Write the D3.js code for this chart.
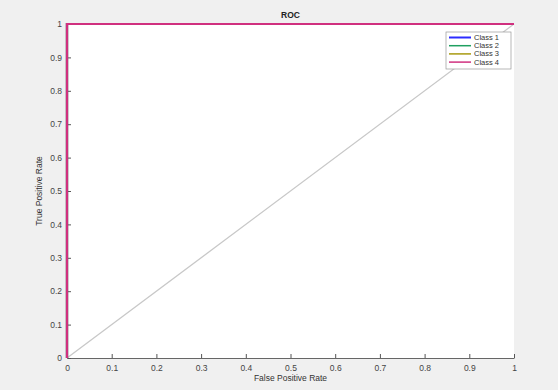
<!DOCTYPE html>
<html lang="en">
<head>
<meta charset="UTF-8">
<title>ROC</title>
<script src="https://d3js.org/d3.v7.min.js"></script>
<style>
    body { margin: 0; background: #f0f0f0; }
    svg { display: block; font-family: 'Liberation Sans', Arial, sans-serif; }
    .tick text { fill: #444; font-size: 8.5px; }
    .tick line { stroke: #555; }
</style>
</head>
<body>
<svg width="558" height="390"></svg>
<script>
    // ROC points per class (FPR, TPR)
    const classNames = ["Class 1", "Class 2", "Class 3", "Class 4"];
    const classColors = ["#2b2bff", "#1fa060", "#a89a10", "#d0307f"];
    const fpr = [0, 0, 1];
    const tpr = [0, 1, 1];
    const diagonal = [0, 1];
    const ticks = [0, 0.1, 0.2, 0.3, 0.4, 0.5, 0.6, 0.7, 0.8, 0.9, 1];

    const margin = { left: 67, right: 44, top: 24, bottom: 32 };
    const width = 558, height = 390;

    const svg = d3.select("svg");

    const x = d3.scaleLinear().domain([0, 1]).range([margin.left, width - margin.right]);
    const y = d3.scaleLinear().domain([0, 1]).range([height - margin.bottom, margin.top]);

    // white plot area
    svg.append("rect")
        .attr("x", x(0)).attr("y", y(1))
        .attr("width", x(1) - x(0)).attr("height", y(0) - y(1))
        .attr("fill", "#fff");

    // axes
    const xAxis = svg.append("g")
        .attr("transform", `translate(0,${y(0)})`)
        .call(d3.axisBottom(x).tickValues(ticks).tickFormat(d3.format("~g")).tickSizeInner(-4).tickSizeOuter(0).tickPadding(7));
    const yAxis = svg.append("g")
        .attr("transform", `translate(${x(0)},0)`)
        .call(d3.axisLeft(y).tickValues(ticks).tickFormat(d3.format("~g")).tickSizeInner(-4).tickSizeOuter(0).tickPadding(5));
    [xAxis, yAxis].forEach(a => a.select(".domain").attr("stroke", "#666"));

    // chance line
    svg.append("line")
        .attr("x1", x(diagonal[0])).attr("y1", y(diagonal[0]))
        .attr("x2", x(diagonal[1])).attr("y2", y(diagonal[1]))
        .attr("stroke", "#c8c8c8").attr("stroke-width", 1.3);

    const line = d3.line().x(i => x(fpr[i])).y(i => y(tpr[i]));
    classNames.forEach((name, k) => {
        svg.append("path")
            .attr("d", line(d3.range(fpr.length)))
            .attr("fill", "none")
            .attr("stroke", classColors[k])
            .attr("stroke-width", 2.2);
    });

    // title and labels
    svg.append("text").attr("x", (x(0) + x(1)) / 2).attr("y", 18)
        .attr("text-anchor", "middle").attr("font-size", 8.5).attr("font-weight", "bold")
        .attr("fill", "#222").text("ROC");
    svg.append("text").attr("x", (x(0) + x(1)) / 2).attr("y", 381)
        .attr("text-anchor", "middle").attr("font-size", 8.5).attr("fill", "#333")
        .text("False Positive Rate");
    svg.append("text")
        .attr("transform", `translate(42,${(y(0) + y(1)) / 2}) rotate(-90)`)
        .attr("text-anchor", "middle").attr("font-size", 8.5).attr("fill", "#333")
        .text("True Positive Rate");

    // legend
    const lg = svg.append("g").attr("transform", "translate(446,32)");
    lg.append("rect").attr("width", 65).attr("height", 37)
        .attr("fill", "#fff").attr("stroke", "#999").attr("stroke-width", 0.7);
    classNames.forEach((name, k) => {
        const yy = 5.5 + k * 8.2;
        lg.append("line").attr("x1", 3).attr("x2", 25).attr("y1", yy).attr("y2", yy)
            .attr("stroke", classColors[k]).attr("stroke-width", k === 0 ? 2 : 1.5);
        lg.append("text").attr("x", 28).attr("y", yy + 2.5)
            .attr("font-size", 7.5).attr("fill", "#333").text(name);
    });
</script>
</body>
</html>
